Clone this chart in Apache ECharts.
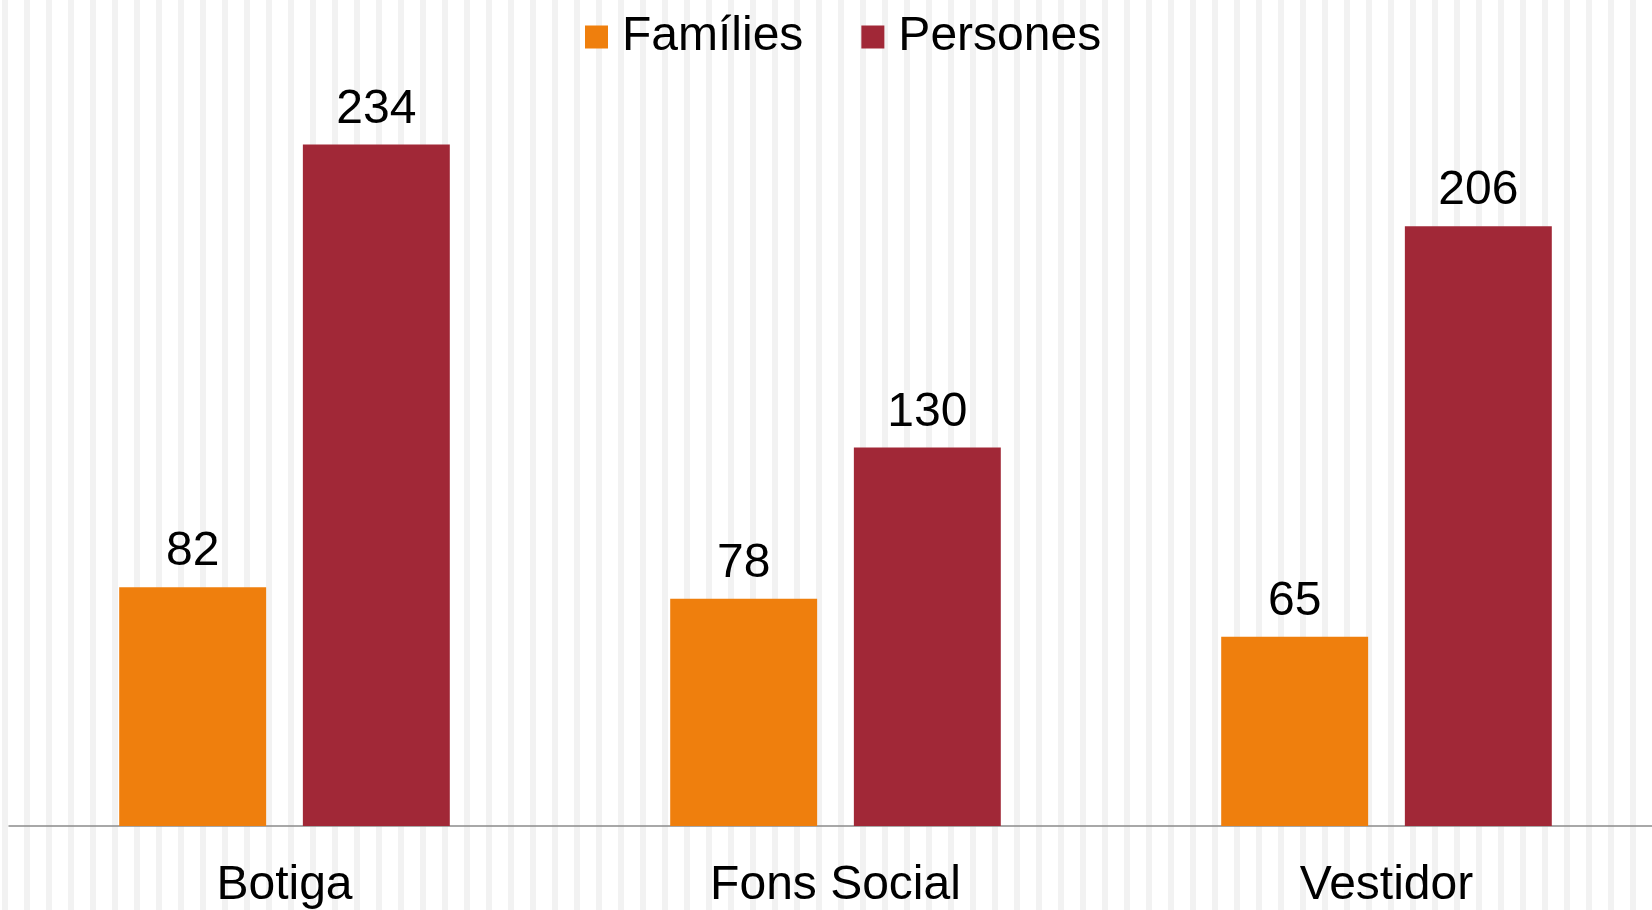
<!DOCTYPE html>
<html>
<head>
<meta charset="utf-8">
<script src="https://cdn.jsdelivr.net/npm/echarts@6/dist/echarts.min.js"></script>
<style>
  html, body { margin: 0; padding: 0; overflow: hidden; }
  body {
    width: 1652px;
    height: 910px;
    /* wide vertical stripe pattern of the chart area */
    background: repeating-linear-gradient(90deg, #ffffff 0 2px, #f2f2f2 2px 8px, #ffffff 8px 22px);
  }
  /* the plot area runs a little past the right edge of the picture */
  #chart { width: 1672px; height: 910px; }
</style>
</head>
<body>
<div id="chart"></div>
<script>
var categories = ["Botiga", "Fons Social", "Vestidor"];
var families = [82, 78, 65];
var persones = [234, 130, 206];

var chart = echarts.init(document.getElementById("chart"));

var labelStyle = {
  show: true,
  position: "top",
  distance: 11,
  color: "#000",
  fontSize: 48,
  fontFamily: "Liberation Sans"
};

var option = {
  backgroundColor: "transparent",
  animation: false,
  legend: {
    left: 580,
    top: 8,
    itemWidth: 23,
    itemHeight: 23,
    itemGap: 58,
    icon: "rect",
    textStyle: {
      color: "#000",
      fontSize: 48,
      fontFamily: "Liberation Sans",
      padding: [0, 0, 0, 9]
    },
    data: ["Famílies", "Persones"]
  },
  grid: {
    left: 9,
    right: 10,
    top: 98,
    bottom: 83.5,
    containLabel: false
  },
  xAxis: {
    type: "category",
    data: categories,
    axisLine: { show: true, lineStyle: { color: "#8c8c8c", width: 1.5 } },
    axisTick: { show: false },
    axisLabel: {
      margin: 36,
      color: "#000",
      fontSize: 48,
      fontFamily: "Liberation Sans"
    },
    splitLine: { show: false }
  },
  yAxis: {
    type: "value",
    min: 0,
    max: 250,
    show: false,
    splitLine: { show: false }
  },
  series: [
    {
      name: "Famílies",
      type: "bar",
      data: families,
      barGap: "25%",
      barCategoryGap: "40%",
      itemStyle: { color: "#ef7f0d" },
      label: labelStyle
    },
    {
      name: "Persones",
      type: "bar",
      data: persones,
      itemStyle: { color: "#a12837" },
      label: labelStyle
    }
  ]
};
chart.setOption(option);
</script>
</body>
</html>
